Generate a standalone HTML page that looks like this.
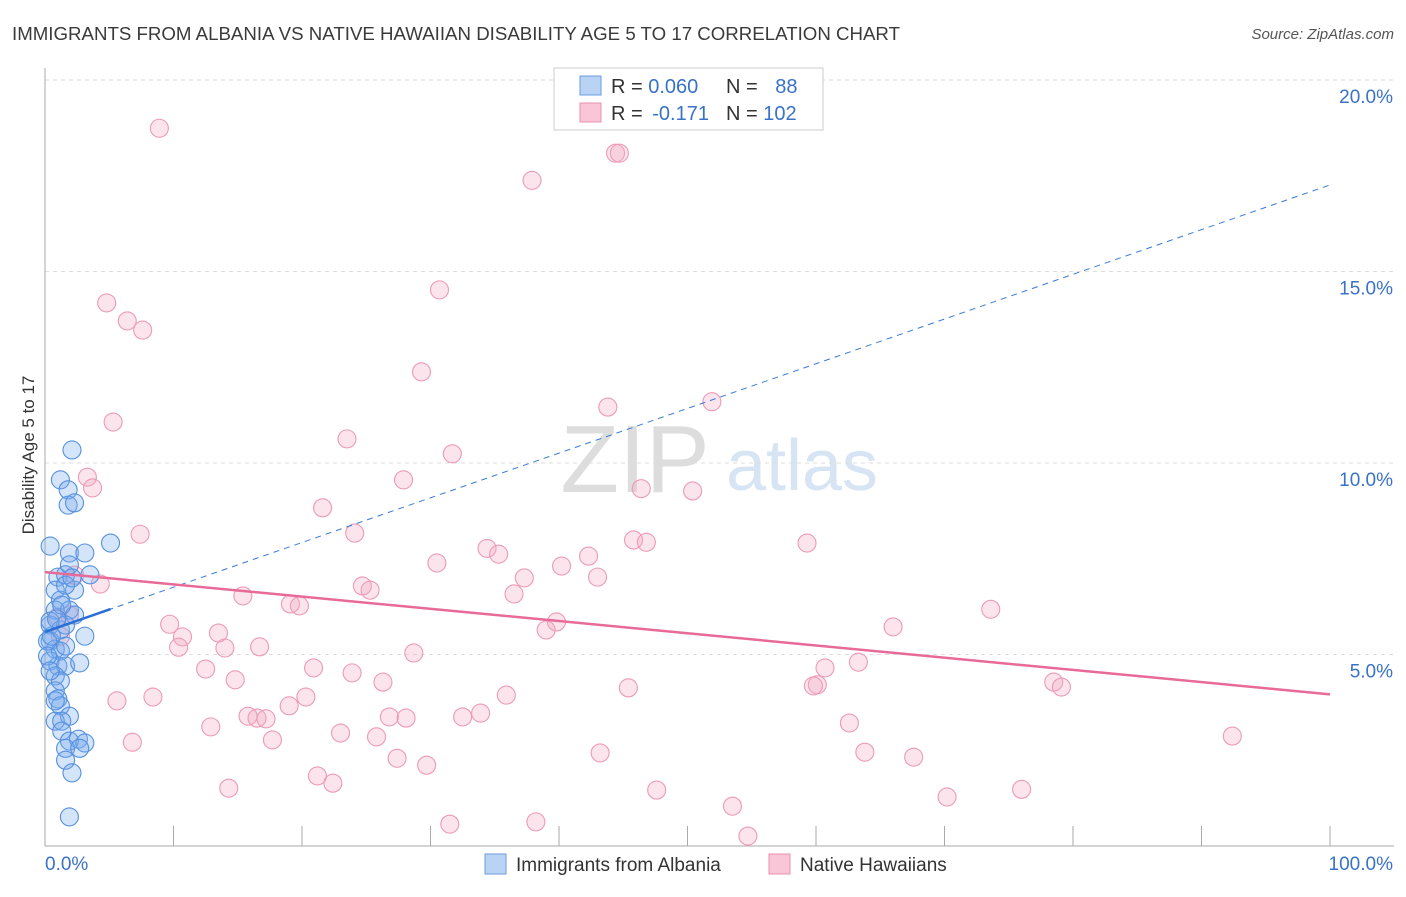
<!DOCTYPE html>
<html><head><meta charset="utf-8"><style>
body{margin:0;background:#fff;font-family:"Liberation Sans",sans-serif;}
svg text{font-family:"Liberation Sans",sans-serif;}
</style></head><body>
<svg id="chart" width="1406" height="892" xmlns="http://www.w3.org/2000/svg">
<text x="12" y="40" font-size="18" fill="#3a3a3a" textLength="888" lengthAdjust="spacingAndGlyphs">IMMIGRANTS FROM ALBANIA VS NATIVE HAWAIIAN DISABILITY AGE 5 TO 17 CORRELATION CHART</text>
<text x="1394" y="39" font-size="15" fill="#555" font-style="italic" text-anchor="end">Source: ZipAtlas.com</text>
<text x="34" y="455" font-size="17" fill="#333" text-anchor="middle" transform="rotate(-90 34 455)">Disability Age 5 to 17</text>
<g><text x="635" y="492" font-size="96" fill="#ddd" font-family="Liberation Serif" text-anchor="middle">ZIP</text><text x="802" y="490" font-size="72" fill="#d6e4f3" text-anchor="middle">atlas</text></g>
<g id="grid"></g><g id="axes"></g><g id="pts"></g><g id="trends"></g>
<g>
<rect x="554" y="68" width="269" height="62" fill="#fff" stroke="#ccc"/>
<rect x="580" y="76" width="21" height="19" fill="#b8d3f3" stroke="#6b9ee0"/>
<rect x="580" y="103" width="21" height="19" fill="#f8c6d6" stroke="#e890ad"/>
<text x="611" y="93" font-size="20" fill="#333">R = <tspan fill="#3a72c8">0.060</tspan></text>
<text x="726" y="93" font-size="20" fill="#333">N = <tspan fill="#3a72c8" dx="12">88</tspan></text>
<text x="611" y="120" font-size="20" fill="#333">R = <tspan fill="#3a72c8" dx="4">-0.171</tspan></text>
<text x="726" y="120" font-size="20" fill="#333">N = <tspan fill="#3a72c8">102</tspan></text>
</g>
<g>
<rect x="485" y="854" width="21" height="20" fill="#b8d3f3" stroke="#6b9ee0"/>
<text x="516" y="871" font-size="19" fill="#333">Immigrants from Albania</text>
<rect x="769" y="854" width="21" height="20" fill="#f8c6d6" stroke="#e890ad"/>
<text x="800" y="871" font-size="19" fill="#333">Native Hawaiians</text>
</g>
</svg>
<script>
const yTicks=[5,10,15,20];
const yTickLabels=["5.0%","10.0%","15.0%","20.0%"];
const xTickCount=10;
const xEndLabels=["0.0%","100.0%"];
const blueX=[2.1,1.2,1.8,1.8,2.3,0.4,5.1,1.9,3.1,1.0,1.6,3.5,1.9,0.8,2.3,1.2,0.8,1.9,2.3,0.4,1.2,1.6,3.1,0.4,0.8,1.2,1.6,0.4,1.0,1.6,2.7,0.8,1.2,0.8,1.0,1.2,1.9,0.8,1.3,1.3,1.9,2.6,3.1,1.6,2.7,1.6,2.1,1.9,0.2,0.5,0.2,0.4,0.8,1.3,1.6,2.1,0.4,0.9];
const blueY=[10.34,9.56,9.30,8.90,8.96,7.83,7.91,7.65,7.65,7.02,7.08,7.08,7.34,6.68,6.68,6.42,6.16,6.16,6.03,5.77,5.64,5.77,5.48,5.35,5.14,5.09,5.22,4.83,4.70,4.70,4.78,4.44,4.31,4.05,3.84,3.66,3.39,3.26,3.26,3.00,2.74,2.79,2.69,2.55,2.55,2.24,1.91,0.76,5.35,5.48,4.96,4.57,3.79,6.29,6.81,7.00,5.87,5.93];
const pinkX=[8.9,44.4,44.7,37.9,4.8,6.4,7.6,30.7,29.3,51.9,43.8,5.3,23.5,31.7,3.3,3.7,27.9,46.4,50.4,21.6,7.4,24.1,34.4,35.3,45.8,46.8,59.3,42.3,30.5,40.2,37.3,43.0,2.3,4.3,24.7,25.3,36.5,15.4,19.1,19.8,73.6,1.9,9.7,39.8,39.0,66.0,10.7,13.5,10.4,14.0,16.7,28.7,63.3,12.5,20.9,23.9,60.7,14.8,26.3,60.1,59.8,45.4,78.5,79.1,8.4,5.6,20.3,35.9,19.0,15.8,16.5,17.2,26.8,28.1,32.5,33.9,12.9,62.6,23.0,25.8,6.8,17.7,92.4,43.2,63.8,67.6,27.4,29.7,21.2,22.4,14.3,47.6,76.0,70.2,53.5,31.5,38.2,54.7,1.0,1.2];
const pinkY=[18.74,18.09,18.09,17.38,14.18,13.71,13.47,14.52,12.38,11.60,11.46,11.07,10.63,10.24,9.63,9.35,9.56,9.33,9.27,8.83,8.14,8.17,7.77,7.62,7.99,7.93,7.91,7.57,7.39,7.31,7.00,7.02,7.07,6.84,6.79,6.68,6.58,6.53,6.32,6.27,6.18,6.03,5.79,5.85,5.64,5.72,5.46,5.56,5.19,5.17,5.20,5.04,4.80,4.62,4.65,4.52,4.65,4.34,4.28,4.21,4.18,4.13,4.28,4.15,3.89,3.79,3.89,3.94,3.66,3.39,3.34,3.32,3.37,3.34,3.37,3.47,3.11,3.21,2.95,2.85,2.71,2.77,2.87,2.43,2.45,2.32,2.29,2.11,1.83,1.64,1.51,1.46,1.48,1.28,1.04,0.57,0.63,0.26,5.98,5.48];
const blueTrend=[5.59,17.26];
const blueSolidEnd=5.1;
const pinkTrend=[7.15,3.96];
const NS="http://www.w3.org/2000/svg";
const X=v=>45+v*12.85, Y=v=>846-v*38.3;
function mk(p,t,a){const e=document.createElementNS(NS,t);for(const k in a)e.setAttribute(k,a[k]);p.appendChild(e);return e;}
const grid=document.getElementById('grid'),axes=document.getElementById('axes'),pts=document.getElementById('pts'),tr=document.getElementById('trends');
yTicks.forEach((t,i)=>{
 const l=mk(grid,'line',{x1:45,x2:1394,y1:Y(t),y2:Y(t),stroke:'#ddd','stroke-dasharray':'4,4'});
 
 
 const tx=mk(axes,'text',{x:1393,y:Y(t)+23,'font-size':19,fill:'#3a72c8','text-anchor':'end'});tx.textContent=yTickLabels[i];
 
 
});
mk(axes,'line',{x1:45,x2:45,y1:68,y2:846,stroke:'#aaa'});
mk(axes,'line',{x1:45,x2:1394,y1:846,y2:846,stroke:'#aaa'});
for(let i=0;i<=xTickCount;i++){const v=i*100/xTickCount;const t=mk(axes,'line',{x1:X(v),x2:X(v),y1:826,y2:846,stroke:'#aaa'});
 
 }
const xl0=mk(axes,'text',{x:45,y:870,'font-size':19,fill:'#3a72c8'});xl0.textContent=xEndLabels[0];


const xl1=mk(axes,'text',{x:1393,y:870,'font-size':19,fill:'#3a72c8','text-anchor':'end'});xl1.textContent=xEndLabels[1];


pinkX.forEach((x,i)=>{const c=mk(pts,'circle',{cx:X(x),cy:Y(pinkY[i]),r:9,fill:'rgba(244,170,196,0.32)',stroke:'#ec9ab7','stroke-width':1.1});
 
 });
blueX.forEach((x,i)=>{const c=mk(pts,'circle',{cx:X(x),cy:Y(blueY[i]),r:9,fill:'rgba(120,170,235,0.32)',stroke:'#5590e0','stroke-width':1.1});
 
 });
const bAt=v=>blueTrend[0]+(blueTrend[1]-blueTrend[0])*v/100;
const bd=mk(tr,'line',{x1:X(0),y1:Y(bAt(0)),x2:X(100),y2:Y(bAt(100)),stroke:'#3a7ad8','stroke-width':1,'stroke-dasharray':'6,5'});


const bs=mk(tr,'line',{x1:X(0),y1:Y(bAt(0)),x2:X(blueSolidEnd),y2:Y(bAt(blueSolidEnd)),stroke:'#2a6fd6','stroke-width':2.5});


const pl=mk(tr,'line',{x1:X(0),y1:Y(pinkTrend[0]),x2:X(100),y2:Y(pinkTrend[1]),stroke:'#e86a98','stroke-width':2.5});


</script>
</body></html>
